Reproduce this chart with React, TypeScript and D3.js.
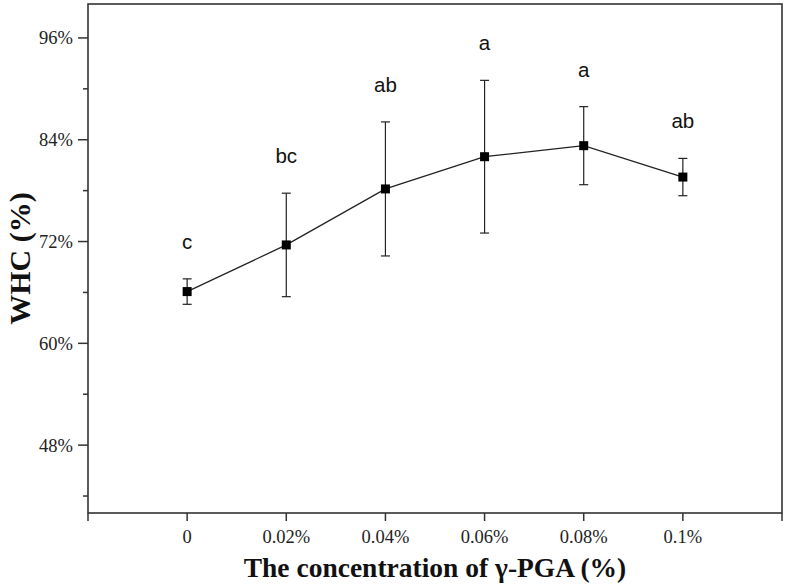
import React from "react";
import * as d3 from "d3";

const categories = ["0", "0.02%", "0.04%", "0.06%", "0.08%", "0.1%"];
const whc = [66.1, 71.6, 78.2, 82.0, 83.3, 79.6];
const errs = [1.5, 6.1, 7.9, 9.0, 4.6, 2.2];
const letters = ["c", "bc", "ab", "a", "a", "ab"];
const yMajorTicks = [48, 60, 72, 84, 96];
const yMinorTicks = [42, 54, 66, 78, 90];

const W = 787;
const H = 584;
const left = 88, right = 782, top = 4, bottom = 513;

export default function App() {
  const x = d3.scaleLinear().domain([-1, categories.length]).range([left, right]);
  const y = d3.scaleLinear().domain([40, 100]).range([bottom, top]);
  const line = d3.line<number>().x((_, i) => x(i)).y((d) => y(d));
  const stroke = "#222";
  const serif = "'Liberation Serif', 'Times New Roman', serif";
  const sans = "'Liberation Sans', Arial, sans-serif";
  const xTickIdx = d3.range(-1, categories.length + 1);

  return (
    <svg width={W} height={H} style={{ position: "absolute", left: 0, top: 0, background: "#fff" }}>
      <rect x={left} y={top} width={right - left} height={bottom - top} fill="none" stroke="#333" strokeWidth={1.6} />
      {yMajorTicks.map((t) => (
        <g key={"ym" + t}>
          <line x1={left - 10} x2={left} y1={y(t)} y2={y(t)} stroke="#333" strokeWidth={1.5} />
          <text x={73} y={y(t)} dy="0.35em" textAnchor="end" fontFamily={serif} fontSize={18.5} fill="#222">
            {t}%
          </text>
        </g>
      ))}
      {yMinorTicks.map((t) => (
        <line key={"yn" + t} x1={left - 5} x2={left} y1={y(t)} y2={y(t)} stroke="#333" strokeWidth={1.5} />
      ))}
      {xTickIdx.map((i) => (
        <line key={"xt" + i} x1={x(i)} x2={x(i)} y1={bottom} y2={bottom + 8} stroke="#333" strokeWidth={1.5} />
      ))}
      {categories.map((c, i) => (
        <text key={"xl" + i} x={x(i)} y={543} textAnchor="middle" fontFamily={serif} fontSize={18.5} fill="#222">
          {c}
        </text>
      ))}
      <text x={(left + right) / 2} y={577} textAnchor="middle" fontFamily={serif} fontWeight="bold" fontSize={27.5} fill="#111">
        The concentration of γ-PGA (%)
      </text>
      <text
        transform={`translate(30, ${(top + bottom) / 2}) rotate(-90)`}
        textAnchor="middle"
        fontFamily={serif}
        fontWeight="bold"
        fontSize={30}
        fill="#111"
      >
        WHC (%)
      </text>
      <path d={line(whc) || ""} fill="none" stroke={stroke} strokeWidth={1.3} />
      {whc.map((v, i) => (
        <g key={"p" + i}>
          <line x1={x(i)} x2={x(i)} y1={y(v - errs[i])} y2={y(v + errs[i])} stroke={stroke} strokeWidth={1.2} />
          <line x1={x(i) - 4.5} x2={x(i) + 4.5} y1={y(v + errs[i])} y2={y(v + errs[i])} stroke={stroke} strokeWidth={1.2} />
          <line x1={x(i) - 4.5} x2={x(i) + 4.5} y1={y(v - errs[i])} y2={y(v - errs[i])} stroke={stroke} strokeWidth={1.2} />
          <rect x={x(i) - 4.5} y={y(v) - 4.5} width={9} height={9} fill="#000" />
          <text x={x(i)} y={y(v + errs[i]) - 30} textAnchor="middle" fontFamily={sans} fontSize={20.5} fill="#111">
            {letters[i]}
          </text>
        </g>
      ))}
    </svg>
  );
}
